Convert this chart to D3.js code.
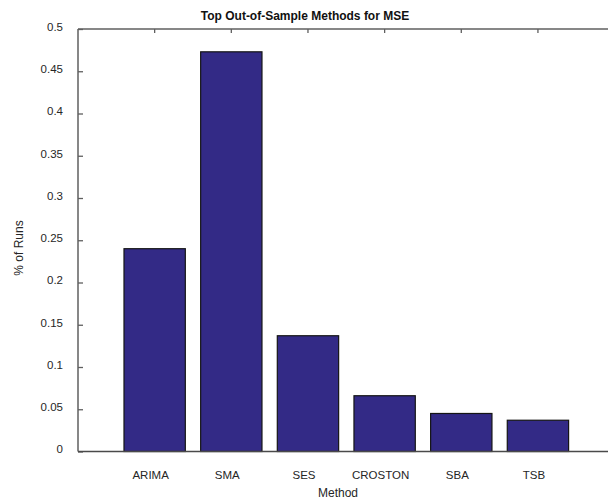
<!DOCTYPE html>
<html>
<head>
<meta charset="utf-8">
<script src="https://cdn.jsdelivr.net/npm/d3@7"></script>
<style>
  html, body { margin: 0; padding: 0; background: #fff; }
  svg { display: block; font-family: "Liberation Sans", Arial, Helvetica, sans-serif; }
</style>
</head>
<body>
<svg id="chart" width="608" height="501"></svg>
<script>
// Share of runs in which each method gave the best out-of-sample MSE
const methods = ["ARIMA", "SMA", "SES", "CROSTON", "SBA", "TSB"];
const shareOfRuns = [0.240, 0.473, 0.137, 0.066, 0.045, 0.037];
const yTickValues = [0, 0.05, 0.1, 0.15, 0.2, 0.25, 0.3, 0.35, 0.4, 0.45, 0.5];
const yTickLabels = ["0", "0.05", "0.1", "0.15", "0.2", "0.25", "0.3", "0.35", "0.4", "0.45", "0.5"];

const svg = d3.select("#chart");
const plot = { left: 78, right: 614.6, top: 29, bottom: 451.5 };
const axisColor = "#5f5f5f";
const textColor = "#262626";

const x = d3.scaleBand()
  .domain(methods)
  .range([plot.left, plot.right])
  .paddingInner(0.2)
  .paddingOuter(0.6);

const y = d3.scaleLinear()
  .domain([0, 0.5])
  .range([plot.bottom, plot.top]);

// Bars
svg.append("g")
  .selectAll("rect")
  .data(methods.map((m, i) => ({ m, v: shareOfRuns[i] })))
  .join("rect")
  .attr("x", d => x(d.m))
  .attr("y", d => y(d.v))
  .attr("width", x.bandwidth())
  .attr("height", d => y(0) - y(d.v))
  .attr("fill", "#332a86")
  .attr("stroke", "#151515")
  .attr("stroke-width", 1.2);

// Left axis, ticks pointing into the plot
const yAxis = d3.axisLeft(y)
  .tickValues(yTickValues)
  .tickFormat((d, i) => yTickLabels[i])
  .tickSizeInner(-5)
  .tickSizeOuter(0)
  .tickPadding(15);
const gy = svg.append("g").attr("transform", `translate(${plot.left},0)`).call(yAxis);
gy.select(".domain").remove();
gy.selectAll(".tick line").attr("stroke", axisColor).attr("stroke-width", 1.3);
gy.selectAll(".tick text")
  .attr("fill", textColor)
  .attr("font-size", "11.5px")
  .attr("dy", "0.12em");

// Top axis: category ticks pointing down
const topAxis = d3.axisTop(x).tickSizeInner(-4).tickSizeOuter(0).tickFormat("");
const gt = svg.append("g").attr("transform", `translate(0,${plot.top})`).call(topAxis);
gt.select(".domain").remove();
gt.selectAll(".tick line").attr("stroke", axisColor).attr("stroke-width", 1.3);

// Bottom axis with category labels
const bottomAxis = d3.axisBottom(x).tickSize(0).tickPadding(19);
const gb = svg.append("g").attr("transform", `translate(0,${plot.bottom})`).call(bottomAxis);
gb.select(".domain").remove();
gb.selectAll(".tick text")
  .attr("fill", textColor)
  .attr("font-size", "11.5px")
  .attr("dx", "-4");

// Axis frame lines
const frame = svg.append("g").attr("stroke", axisColor).attr("stroke-width", 1.5).attr("fill", "none");
frame.append("line").attr("x1", plot.left).attr("x2", plot.right).attr("y1", plot.top).attr("y2", plot.top);
frame.append("line").attr("x1", plot.left).attr("x2", plot.left).attr("y1", plot.top).attr("y2", plot.bottom);
frame.append("line").attr("x1", plot.left).attr("x2", plot.right).attr("y1", plot.bottom).attr("y2", plot.bottom)
  .attr("stroke", "#4a4a4a");

// Title and axis labels
svg.append("text")
  .attr("x", 305).attr("y", 20)
  .attr("text-anchor", "middle")
  .attr("font-size", "12px")
  .attr("font-weight", "bold")
  .attr("fill", "#111")
  .text("Top Out-of-Sample Methods for MSE");

svg.append("text")
  .attr("x", 338).attr("y", 497)
  .attr("text-anchor", "middle")
  .attr("font-size", "12px")
  .attr("fill", textColor)
  .text("Method");

svg.append("text")
  .attr("transform", "translate(23,248) rotate(-90)")
  .attr("text-anchor", "middle")
  .attr("font-size", "12px")
  .attr("fill", textColor)
  .text("% of Runs");
</script>
</body>
</html>
